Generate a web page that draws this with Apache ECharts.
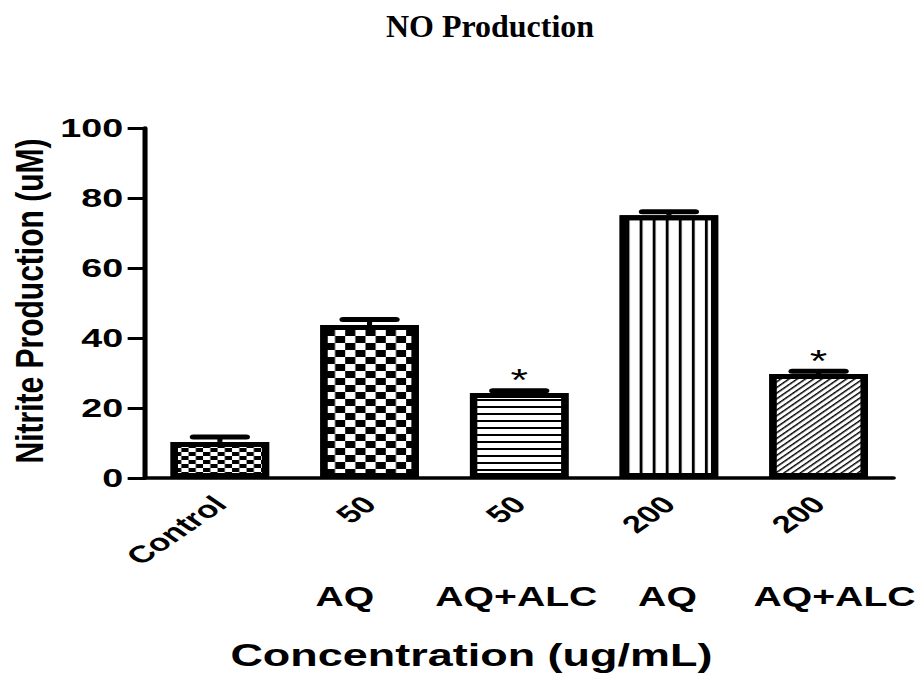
<!DOCTYPE html>
<html><head><meta charset="utf-8">
<script src="https://cdn.jsdelivr.net/npm/echarts@6/dist/echarts.min.js"></script>
<style>
html,body{margin:0;padding:0;background:#fff;overflow:hidden}
#wrap{width:921px;height:677px;overflow:hidden;position:relative;background:#fff}
#chart{width:635px;height:677px;transform:scaleX(1.45039);transform-origin:0 0}
</style></head><body>
<div id="wrap"><div id="chart"></div></div>
<script>
const categories = ['Control', '50', '50', '200', '200'];
const groupLabels = ['', 'AQ', 'AQ+ALC', 'AQ', 'AQ+ALC'];
const nitriteValues = [10.3, 43.7, 24.3, 75.1, 29.7];
const errorValues = [1.4, 1.6, 0.6, 1.0, 0.8];
const sigMarks = ['', '', '*', '', '*'];
const yTicks = [0, 20, 40, 60, 80, 100];
const chartTitle = 'NO Production';
const yTitle = 'Nitrite Production (uM)';
const xTitle = 'Concentration (ug/mL)';

const S = 921 / 635;
const sans = "'Liberation Sans', Arial, sans-serif";
const decals = [
  {symbol: 'rect', symbolSize: 1, color: '#000', dashArrayX: [[5, 5], [0, 5, 5, 0]], dashArrayY: [4, 0]},
  {symbol: 'rect', symbolSize: 1, color: '#000', dashArrayX: [[7, 7], [0, 7, 7, 0]], dashArrayY: [7, 0]},
  {symbol: 'rect', symbolSize: 1, color: '#000', dashArrayX: [1, 0], dashArrayY: [2, 5]},
  {symbol: 'rect', symbolSize: 1, color: '#000', dashArrayX: [2, 7], dashArrayY: [1, 0]},
  {symbol: 'rect', symbolSize: 1.5, color: '#000', dashArrayX: [1, 0], dashArrayY: [1, 3], rotation: -Math.PI / 4}
];
const groupPads = [[0, 0, 0, 0], [0, 34, 0, 0], [0, 4, 0, 0], [0, 2, 0, 0], [0, 0, 0, 22]];

const chart = echarts.init(document.getElementById('chart'), null, {renderer: 'svg'});
chart.setOption({
  backgroundColor: '#fff',
  animation: false,
  grid: {left: 100, right: 19, top: 128, bottom: 199, containLabel: false, outerBoundsMode: 'none'},
  xAxis: [
    {
      type: 'category', data: categories,
      axisLine: {lineStyle: {color: '#000', width: 3.5}},
      axisTick: {alignWithLabel: true, length: 8, lineStyle: {color: '#000', width: 3.5}},
      axisLabel: {rotate: 45, interval: 0, fontSize: 24, fontWeight: 'bold', color: '#000', fontFamily: sans, margin: 22},
      splitLine: {show: false}
    },
    {
      type: 'category', position: 'bottom',
      data: categories.map((c, i) => ({value: c, textStyle: {padding: groupPads[i]}})),
      axisLine: {show: false}, axisTick: {show: false}, splitLine: {show: false},
      axisLabel: {interval: 0, formatter: (v, i) => groupLabels[i], fontSize: 27, fontWeight: 'bold', color: '#000', fontFamily: sans, margin: 105}
    }
  ],
  yAxis: {
    type: 'value', min: 0, max: 100, interval: 20,
    axisLine: {show: true, lineStyle: {color: '#000', width: 3.5}},
    axisTick: {show: true, length: 12, lineStyle: {color: '#000', width: 3}},
    axisLabel: {fontSize: 26, fontWeight: 'bold', color: '#000', fontFamily: sans, margin: 15,
      formatter: v => (yTicks.indexOf(v) >= 0 ? String(v) : '')},
    splitLine: {show: false}
  },
  series: [
    {
      type: 'bar', barWidth: 68,
      data: nitriteValues.map((v, i) => ({value: v, itemStyle: {decal: decals[i]}})),
      itemStyle: {color: '#fff', borderColor: '#000', borderWidth: 5},
      label: {show: true, position: 'top', distance: -3, formatter: p => sigMarks[p.dataIndex],
        fontSize: 31, color: '#000', fontFamily: sans},
      z: 2
    },
    {
      type: 'custom', z: 3,
      data: nitriteValues.map((v, i) => [i, v, v + errorValues[i]]),
      encode: {x: 0, y: [1, 2]},
      renderItem: (params, api) => {
        const x = api.value(0);
        const lo = api.coord([x, api.value(1)]);
        const hi = api.coord([x, api.value(2)]);
        const cw = api.size([1, 0])[0] * 0.354;
        return {type: 'group', children: [
          {type: 'line', shape: {x1: lo[0], y1: lo[1], x2: hi[0], y2: hi[1]}, style: {stroke: '#000', lineWidth: 3.5}},
          {type: 'line', shape: {x1: hi[0] - cw / 2, y1: hi[1], x2: hi[0] + cw / 2, y2: hi[1]}, style: {stroke: '#000', lineWidth: 5, lineCap: 'round'}}
        ]};
      }
    }
  ],
  graphic: [
    {type: 'group', x: 490 / S, y: 26, scaleX: 1 / S, children: [
      {type: 'text', style: {text: chartTitle, x: 0, y: 0, align: 'center', textAlign: 'center', verticalAlign: 'middle', textVerticalAlign: 'middle',
        font: "bold 32px 'Liberation Serif', 'Times New Roman', serif", fill: '#000'}}
    ]},
    {type: 'group', x: 20, y: 301, scaleX: 0.9, children: [
      {type: 'text', rotation: Math.PI / 2, style: {text: yTitle, x: 0, y: 0, align: 'center', textAlign: 'center', verticalAlign: 'middle', textVerticalAlign: 'middle',
        font: "bold 30px 'Liberation Sans', Arial, sans-serif", fill: '#000'}}
    ]},
    {type: 'text', x: 325, y: 655, style: {text: xTitle, align: 'center', textAlign: 'center', verticalAlign: 'middle', textVerticalAlign: 'middle',
      font: "bold 31px 'Liberation Sans', Arial, sans-serif", fill: '#000'}}
  ]
});
</script>
</body></html>
